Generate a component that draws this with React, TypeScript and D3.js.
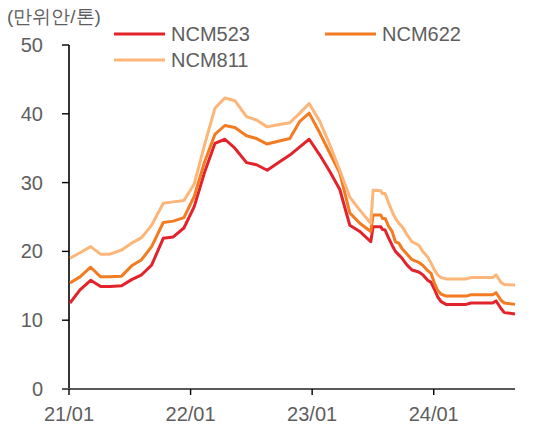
import React from "react";
import * as d3 from "d3";

const dates = [
  "2021-01-04","2021-02-03","2021-03-07","2021-04-06","2021-05-04","2021-06-08",
  "2021-07-08","2021-08-07","2021-09-06","2021-10-11","2021-11-10","2021-12-12",
  "2022-01-12","2022-02-12","2022-03-15","2022-04-14","2022-05-14","2022-06-18",
  "2022-07-18","2022-08-19","2022-09-21","2022-10-26","2022-11-25","2022-12-23",
  "2023-01-24","2023-02-23","2023-03-25","2023-04-24","2023-05-24","2023-06-26",
  "2023-07-03","2023-07-26","2023-07-31","2023-08-08","2023-08-19","2023-08-29",
  "2023-09-08","2023-09-18","2023-09-28","2023-10-13","2023-10-28","2023-11-17",
  "2023-11-29","2023-12-14","2023-12-24","2024-01-03","2024-01-13","2024-01-23",
  "2024-02-07","2024-04-07","2024-04-22","2024-06-26","2024-07-06","2024-07-21",
  "2024-07-31","2024-09-01",
];

const ncm523 = [
  12.5, 14.4, 15.8, 14.9, 14.9, 15.0, 15.9, 16.6, 18.0, 21.9, 22.1, 23.4,
  26.5, 31.5, 35.7, 36.3, 35.0, 32.9, 32.6, 31.8, 32.9, 34.0, 35.2, 36.3,
  34.0, 31.6, 29.0, 23.8, 22.9, 21.4,
  23.6, 23.6, 23.2, 23.1, 21.9, 20.9, 20.0, 19.5, 19.0, 18.0, 17.3, 17.0,
  16.6, 15.8, 15.5, 14.5, 13.4, 12.7, 12.3, 12.3, 12.5, 12.5, 12.8, 11.7,
  11.1, 10.9,
];

const ncm622 = [
  15.4, 16.3, 17.7, 16.3, 16.3, 16.4, 17.9, 18.8, 20.7, 24.2, 24.4, 24.9,
  28.0, 33.0, 37.0, 38.3, 38.0, 36.8, 36.4, 35.6, 36.0, 36.4, 38.9, 40.1,
  37.2, 34.3, 31.4, 25.6, 24.1, 22.9,
  25.3, 25.3, 24.8, 24.8, 23.6, 22.9, 21.4, 21.2, 20.4, 19.6, 18.8, 18.4,
  18.0, 17.2, 16.8, 15.4, 14.3, 13.8, 13.5, 13.5, 13.7, 13.7, 14.0, 12.9,
  12.5, 12.3,
];

const ncm811 = [
  19.0, 19.8, 20.7, 19.6, 19.6, 20.2, 21.2, 22.0, 23.8, 27.0, 27.2, 27.4,
  29.8, 35.5, 40.8, 42.3, 41.9, 39.6, 39.1, 38.1, 38.4, 38.7, 40.1, 41.5,
  38.9, 35.5, 31.8, 27.9, 26.0, 24.1,
  28.9, 28.8, 28.4, 28.4, 27.0, 25.8, 24.8, 24.1, 23.6, 22.4, 21.4, 20.9,
  20.0, 19.2, 18.3, 17.3, 16.6, 16.2, 16.0, 16.0, 16.2, 16.2, 16.6, 15.5,
  15.2, 15.1,
];

const seriesNames = ["NCM523", "NCM622", "NCM811"];
const seriesColors = ["#E3232C", "#F37B22", "#FDB679"];
const yTicks = [0, 10, 20, 30, 40, 50];
const xTickDates = ["2021-01-01", "2022-01-01", "2023-01-01", "2024-01-01"];
const unitLabel = "(만위안/톤)";

const FONT = "'Liberation Sans', Arial, sans-serif";
const TEXT = "#5e5e5e";

export default function App() {
  const W = 535, H = 428;
  const parse = d3.timeParse("%Y-%m-%d");
  const x = d3.scaleTime()
    .domain([parse("2021-01-01")!, parse("2024-09-01")!])
    .range([69, 515]);
  const y = d3.scaleLinear().domain([0, 50]).range([389, 45]);
  const fmt = d3.timeFormat("%y/%m");

  const allSeries = [ncm523, ncm622, ncm811];
  const line = d3.line<number>()
    .x((_, i) => x(parse(dates[i])!))
    .y((v) => y(v))
    .curve(d3.curveLinear);

  const legendPos = [
    { lx: 114, ly: 34 },
    { lx: 325, ly: 34 },
    { lx: 114, ly: 60 },
  ];

  return (
    <svg width={W} height={H} style={{ position: "absolute", left: 0, top: 0, background: "#fff" }}
      fontFamily={FONT}>
      <text x={7} y={23} fontSize={19} fill={TEXT}>{unitLabel}</text>
      {/* y axis */}
      <line x1={69} x2={69} y1={y(50)} y2={y(0)} stroke="#000" strokeWidth={1.6} />
      {yTicks.map((t) => (
        <g key={t}>
          <line x1={62} x2={69} y1={y(t)} y2={y(t)} stroke="#000" strokeWidth={1.4} />
          <text x={43} y={y(t)} dy="0.35em" textAnchor="end" fontSize={20} fill={TEXT}>{t}</text>
        </g>
      ))}
      {/* lines */}
      {allSeries.map((s, k) => (
        <path key={k} d={line(s) || ""} fill="none" stroke={seriesColors[k]}
          strokeWidth={3} strokeLinejoin="round" />
      ))}
      {/* x axis */}
      <line x1={62} x2={515} y1={y(0)} y2={y(0)} stroke="#595959" strokeWidth={2} />
      {xTickDates.map((d) => {
        const xx = x(parse(d)!);
        return (
          <g key={d}>
            <line x1={xx} x2={xx} y1={y(0)} y2={y(0) + 6} stroke="#000" strokeWidth={1.4} />
            <text x={xx} y={421} textAnchor="middle" fontSize={20} fill={TEXT}>{fmt(parse(d)!)}</text>
          </g>
        );
      })}
      {/* legend */}
      {seriesNames.map((n, k) => (
        <g key={n}>
          <line x1={legendPos[k].lx} x2={legendPos[k].lx + 51} y1={legendPos[k].ly} y2={legendPos[k].ly}
            stroke={seriesColors[k]} strokeWidth={3} />
          <text x={legendPos[k].lx + 57} y={legendPos[k].ly} dy="0.35em" fontSize={20} fill={TEXT}>{n}</text>
        </g>
      ))}
    </svg>
  );
}
